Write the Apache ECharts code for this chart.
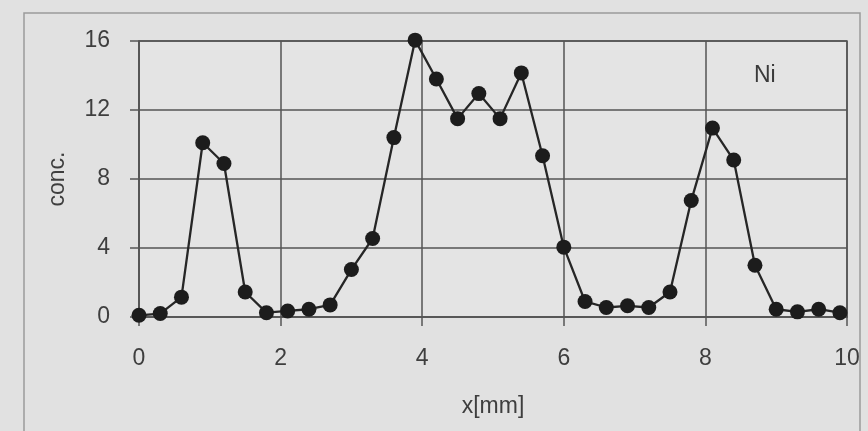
<!DOCTYPE html>
<html>
<head>
<meta charset="utf-8">
<script src="https://cdn.jsdelivr.net/npm/echarts@6/dist/echarts.min.js"></script>
<style>
  html, body { margin: 0; padding: 0; background: #e1e1e1; }
  #chart { width: 868px; height: 431px; }
</style>
</head>
<body>
<div id="chart"></div>
<script>
"use strict";
// Ni concentration profile along x
const xMm = [0, 0.3, 0.6, 0.9, 1.2, 1.5, 1.8, 2.1, 2.4, 2.7, 3.0, 3.3, 3.6, 3.9,
  4.2, 4.5, 4.8, 5.1, 5.4, 5.7, 6.0, 6.3, 6.6, 6.9, 7.2, 7.5, 7.8, 8.1, 8.4, 8.7,
  9.0, 9.3, 9.6, 9.9];
const conc = [0.1, 0.2, 1.15, 10.1, 8.9, 1.45, 0.25, 0.35, 0.45, 0.7, 2.75, 4.55, 10.4, 16.05,
  13.8, 11.5, 12.95, 11.5, 14.15, 9.35, 4.05, 0.9, 0.55, 0.65, 0.55, 1.45, 6.75, 10.95, 9.1, 3.0,
  0.45, 0.3, 0.45, 0.25];
const xTicks = { min: 0, max: 10, interval: 2 };
const yTicks = { min: 0, max: 16, interval: 4 };
const seriesName = "Ni";

const ink = "#262626", labelInk = "#3e3e3e", gridInk = "#555";
const font = "'Liberation Sans', Arial, sans-serif";

const chart = echarts.init(document.getElementById("chart"));
chart.setOption({
  backgroundColor: "#e1e1e1",
  animation: false,
  grid: { left: 139, right: 21, top: 41, bottom: 114, show: true,
    backgroundColor: "#e4e4e4", borderColor: gridInk, borderWidth: 1.5 },
  title: { text: seriesName, left: 749, top: 59,
    textStyle: { fontFamily: font, fontSize: 23, fontWeight: "normal", color: "#3a3a3a" } },
  graphic: [{ type: "rect", silent: true, z: -1,
    shape: { x: 24, y: 13, width: 836, height: 440 },
    style: { fill: null, stroke: "#9a9a9a", lineWidth: 1.5 } }],
  xAxis: {
    type: "value", ...xTicks,
    name: "x[mm]", nameLocation: "middle", nameGap: 78,
    nameTextStyle: { fontFamily: font, fontSize: 23, color: labelInk },
    axisLine: { show: true, lineStyle: { color: gridInk, width: 1.5 } },
    axisTick: { show: true, length: 9, lineStyle: { color: gridInk, width: 1.5 } },
    axisLabel: { margin: 30, fontFamily: font, fontSize: 23, color: labelInk },
    splitLine: { show: true, lineStyle: { color: gridInk, width: 1.5 } },
  },
  yAxis: {
    type: "value", ...yTicks,
    name: "conc.", nameLocation: "middle", nameGap: 70, nameRotate: 90,
    nameTextStyle: { fontFamily: font, fontSize: 23, color: labelInk },
    axisLine: { show: true, lineStyle: { color: gridInk, width: 1.5 } },
    axisTick: { show: true, length: 9, lineStyle: { color: gridInk, width: 1.5 } },
    axisLabel: { margin: 29, fontFamily: font, fontSize: 23, color: labelInk },
    splitLine: { show: true, lineStyle: { color: gridInk, width: 1.5 } },
  },
  series: [{
    name: seriesName, type: "line", clip: false,
    data: xMm.map((x, i) => [x, conc[i]]),
    symbol: "circle", symbolSize: 15,
    lineStyle: { color: ink, width: 2.3 },
    itemStyle: { color: "#1c1c1c" },
  }],
});
</script>
</body>
</html>
